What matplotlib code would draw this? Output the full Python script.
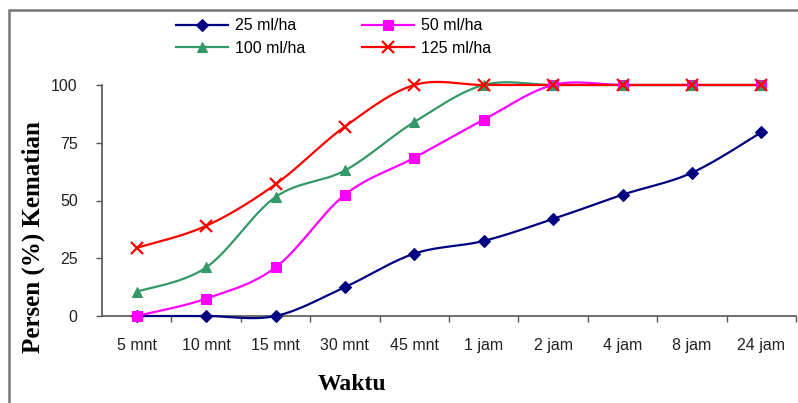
import numpy as np
import matplotlib
matplotlib.use('Agg')
import matplotlib.pyplot as plt
from matplotlib.lines import Line2D
from matplotlib.patches import Rectangle

waktu = ['5 mnt', '10 mnt', '15 mnt', '30 mnt', '45 mnt',
         '1 jam', '2 jam', '4 jam', '8 jam', '24 jam']

dosis_25 = [0, 0, 0, 12.5, 27, 32.5, 42, 52.5, 62, 79.5]
dosis_50 = [0, 7.5, 21, 52.5, 68.5, 85, 100, 100, 100, 100]
dosis_100 = [10.5, 21, 51.5, 63, 84, 100, 100, 100, 100, 100]
dosis_125 = [29.5, 39, 57, 82, 100, 100, 100, 100, 100, 100]

labels = ['25 ml/ha', '50 ml/ha', '100 ml/ha', '125 ml/ha']
colors = ['#000080', '#ff00ff', '#339966', '#ff0000']
markers = ['D', 's', '^', 'x']


# smoothed line like excel (catmull-rom through the points)
def smooth(y, n=30):
    x = np.arange(len(y), dtype=float)
    y = np.asarray(y, dtype=float)
    px = np.concatenate([[x[0]], x, [x[-1]]])
    py = np.concatenate([[y[0]], y, [y[-1]]])
    xs, ys = [], []
    t = np.linspace(0, 1, n)
    for i in range(1, len(px) - 2):
        for p, out in ((px, xs), (py, ys)):
            p0, p1, p2, p3 = p[i - 1], p[i], p[i + 1], p[i + 2]
            b1 = p1 + (p2 - p0) / 6
            b2 = p2 - (p3 - p1) / 6
            out.extend((1 - t) ** 3 * p1 + 3 * (1 - t) ** 2 * t * b1
                       + 3 * (1 - t) * t ** 2 * b2 + t ** 3 * p2)
    return np.array(xs), np.array(ys)


fig = plt.figure(figsize=(7.98, 4.03), dpi=100)
ax = fig.add_axes([102 / 798, 87 / 403, 694 / 798, 231 / 403])

x = np.arange(len(waktu))
handles = []
for vals, lab, col, mk in zip([dosis_25, dosis_50, dosis_100, dosis_125],
                              labels, colors, markers):
    sx, sy = smooth(vals)
    ax.plot(sx, sy, color=col, lw=1.6, clip_on=False, zorder=3)
    mew = 1.6 if mk == 'x' else 0.8
    ms = 8 if mk == 'x' else (6.5 if mk == 'D' else 7)
    ax.plot(x, vals, ls='none', marker=mk, color=col, ms=ms, mew=mew,
            clip_on=False, zorder=4)
    handles.append(Line2D([], [], color=col, lw=1.6, marker=mk, ms=ms, mew=mew))

ax.set_xlim(-0.5, 9.5)
ax.set_ylim(0, 100)
ax.set_yticks([0, 25, 50, 75, 100])
ax.set_xticks(x)
ax.set_xticklabels(waktu)
ax.set_xticks(np.arange(0.5, 10, 1), minor=True)
ax.tick_params(axis='x', which='major', length=0, pad=16)
ax.tick_params(axis='x', which='minor', length=4.5, width=1, color='#555555')
ax.tick_params(axis='y', length=4.5, width=1, color='#555555', pad=13)
for lbl in ax.get_xticklabels() + ax.get_yticklabels():
    lbl.set_fontfamily('Liberation Sans')
    lbl.set_fontsize(11.5)
    lbl.set_color('#222222')

ax.spines['top'].set_visible(False)
ax.spines['right'].set_visible(False)
ax.spines['left'].set_color('#555555')
ax.spines['bottom'].set_color('#555555')
ax.spines['left'].set_linewidth(1.2)
ax.spines['bottom'].set_linewidth(1.2)

fig.text(33 / 798, 1 - 237 / 403, 'Persen (%) Kematian', rotation=90,
         ha='center', va='center', fontsize=18, fontweight='bold',
         fontfamily='Liberation Serif')
fig.text(352 / 798, 1 - 384 / 403, 'Waktu', ha='center', va='center',
         fontsize=17, fontweight='bold', fontfamily='Liberation Serif')

order = [0, 2, 1, 3]
leg = fig.legend([handles[i] for i in order], [labels[i] for i in order],
                 ncol=2, frameon=False, loc='upper left',
                 bbox_to_anchor=(170 / 798, 1 - 12 / 403),
                 prop={'family': 'Liberation Sans', 'size': 11.5},
                 handlelength=3.2, handletextpad=0.45, columnspacing=3.6,
                 labelspacing=0.45, borderaxespad=0)

fig.patches.append(Rectangle((9 / 798, -0.1), 1.0, 1 - 10 / 403 + 0.1,
                             transform=fig.transFigure, fill=False,
                             edgecolor='#777777', lw=1.8))

fig.savefig('out.png', dpi=100)
